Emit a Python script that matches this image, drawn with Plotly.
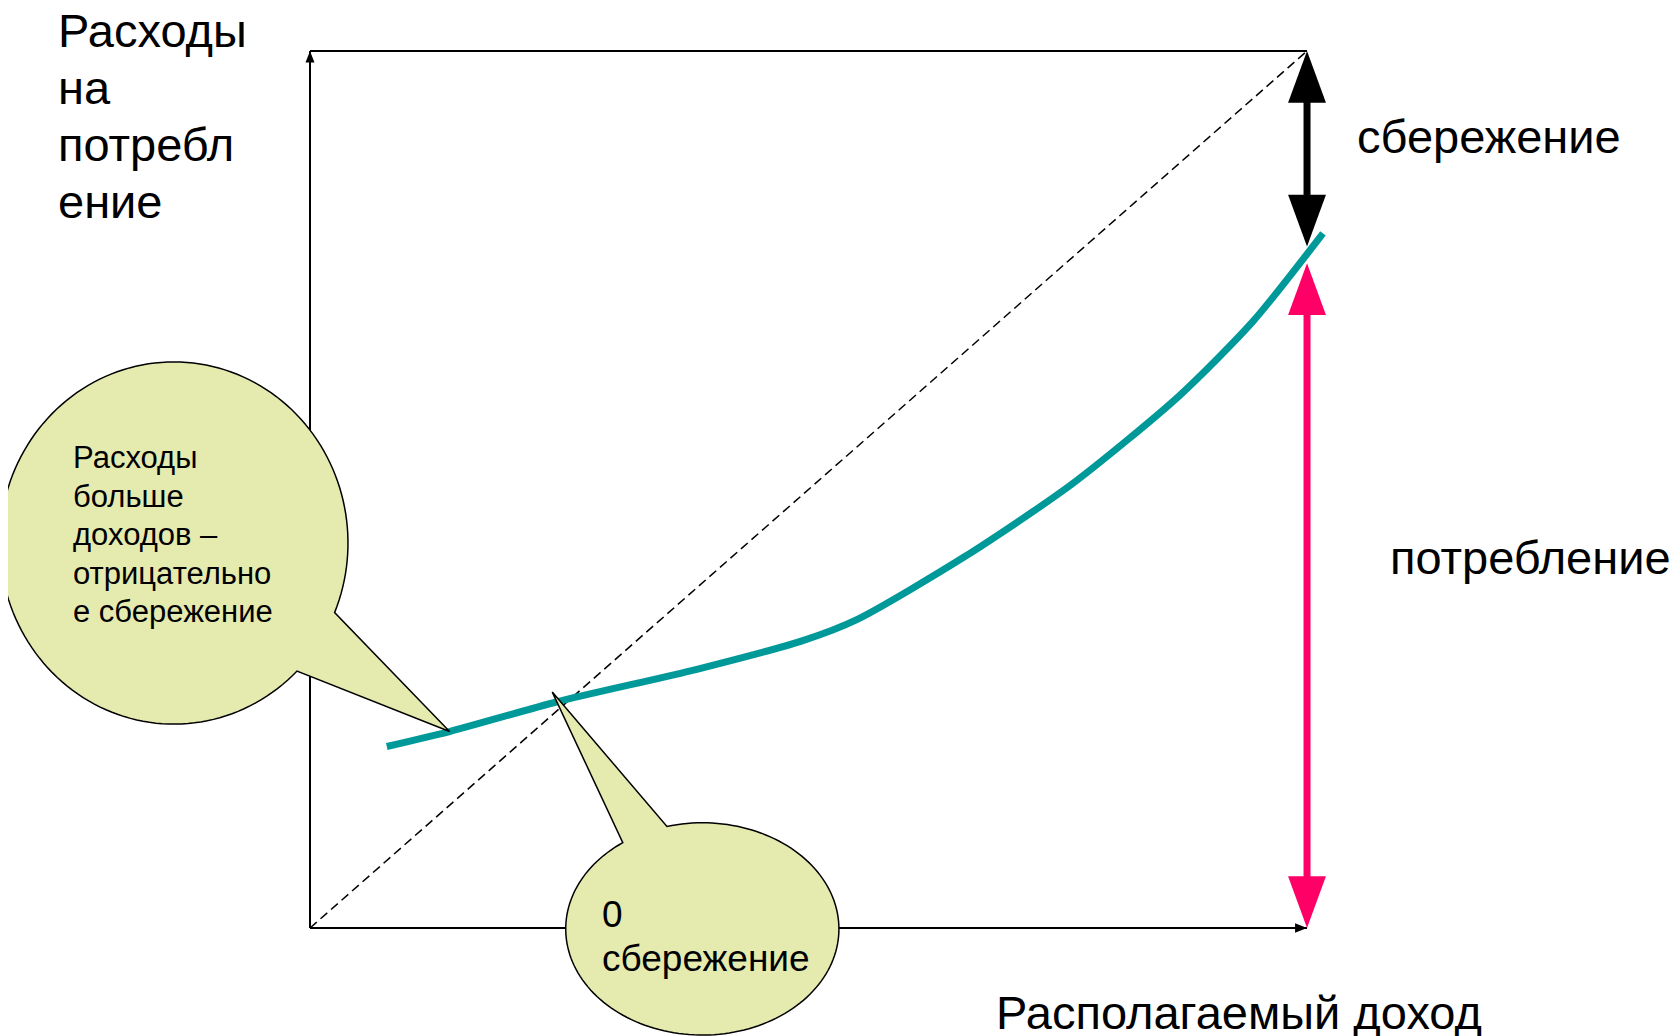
import numpy as np
import plotly.graph_objects as go

# consumption curve (income -> spending), axes 0..100
income = [7.7, 14.0, 24.8, 38.8, 49.5, 54.9, 65.6, 76.4, 87.1, 94.6, 101.6]
consumption = [20.7, 22.4, 25.8, 29.5, 32.8, 35.2, 42.3, 50.6, 60.6, 69.2, 79.2]

# arrows at income = 100
arrow_x = 100
saving_arrow = [100, 77.7]       # black: top of 45-degree line -> curve
consumption_arrow = [75.8, 0]    # pink: curve -> x axis

# labels
y_title = ["Расходы", "на", "потребл", "ение"]
x_title = "Располагаемый доход"
saving_label = "сбережение"
consumption_label = "потребление"
bubble1_text = ["Расходы", "больше", "доходов –", "отрицательно", "е сбережение"]
bubble2_text = ["0", "сбережение"]

TEAL = "#009999"
PINK = "#FF0066"
BUBBLE = "#E5EAAF"
FONT = "Liberation Sans, Arial, sans-serif"

# page body has an 8px margin, so the ranges start 8px in
X_RANGE = [-30.29, 137.41]
Y_RANGE = [-12.31, 104.9]


def tri_path(xt, yt, direction, length, half):
    # triangle head with tip at (xt, yt)
    if direction in ("up", "down"):
        s = -1 if direction == "up" else 1
        pts = [(xt, yt), (xt - half, yt + s * length), (xt + half, yt + s * length)]
    else:
        pts = [(xt, yt), (xt - length, yt - half), (xt - length, yt + half)]
    return "M " + " L ".join(f"{x},{y}" for x, y in pts) + " Z"


def bubble_path(cx, cy, rx, ry, a_start, a_end, tip):
    t = np.radians(np.linspace(a_start, a_end, 160))
    xs = cx + rx * np.cos(t)
    ys = cy + ry * np.sin(t)
    pts = list(zip(xs, ys)) + [tip]
    return "M " + " L ".join(f"{x:.3f},{y:.3f}" for x, y in pts) + " Z"


fig = go.Figure()

# 45 degree line
fig.add_trace(go.Scatter(x=[0, 100], y=[0, 100], mode="lines",
                         line=dict(color="black", width=1.5, dash="9px,5px"),
                         hoverinfo="skip"))

# consumption curve
fig.add_trace(go.Scatter(x=income, y=consumption, mode="lines",
                         line=dict(color=TEAL, width=7, shape="spline", smoothing=0.7),
                         hoverinfo="skip"))

shapes = []
# axes + top line
for x0, y0, x1, y1 in [(0, 0, 0, 100), (0, 0, 100, 0), (0, 100, 100, 100)]:
    shapes.append(dict(type="line", x0=x0, y0=y0, x1=x1, y1=y1, layer="below",
                       line=dict(color="black", width=2)))
shapes.append(dict(type="path", path=tri_path(0, 100, "up", 1.3, 0.45),
                   fillcolor="black", line=dict(width=0), layer="below"))
shapes.append(dict(type="path", path=tri_path(100, 0, "right", 1.2, 0.55),
                   fillcolor="black", line=dict(width=0), layer="below"))

# saving / consumption arrows
for (y_top, y_bot), col in [(saving_arrow, "black"), (consumption_arrow, PINK)]:
    shapes.append(dict(type="line", x0=arrow_x, x1=arrow_x, y0=y_top - 5, y1=y_bot + 5,
                       line=dict(color=col, width=7)))
    shapes.append(dict(type="path", path=tri_path(arrow_x, y_top, "up", 5.9, 1.9),
                       fillcolor=col, line=dict(width=0)))
    shapes.append(dict(type="path", path=tri_path(arrow_x, y_bot, "down", 5.9, 1.9),
                       fillcolor=col, line=dict(width=0)))

# speech bubbles
shapes.append(dict(type="path",
                   path=bubble_path(-13.65, 43.9, 17.46, 20.65, -22.6, 315, (14.0, 22.4)),
                   fillcolor=BUBBLE, line=dict(color="black", width=1.5)))
shapes.append(dict(type="path",
                   path=bubble_path(39.35, -0.1, 13.7, 12.1, 125.6, 465, (24.3, 26.9)),
                   fillcolor=BUBBLE, line=dict(color="black", width=1.5)))

annotations = []


def add_lines(lines, x, y0, step, size):
    for i, s in enumerate(lines):
        annotations.append(dict(x=x, y=y0 - i * step, text=s, showarrow=False,
                                xanchor="left", yanchor="middle",
                                font=dict(family=FONT, size=size, color="black")))


add_lines(y_title, -25.5, 102.3, 6.5, 47)
add_lines([saving_label], 104.85, 90.3, 0, 47)
add_lines([consumption_label], 108.1, 42.3, 0, 47)
add_lines([x_title], 68.6, -9.6, 0, 47)
add_lines(bubble1_text, -24.0, 53.65, 4.4, 31)
add_lines(bubble2_text, 29.1, 1.6, 5.1, 37)

fig.update_layout(
    width=1672, height=1028,
    margin=dict(l=0, r=0, t=0, b=0),
    paper_bgcolor="white", plot_bgcolor="white",
    showlegend=False,
    xaxis=dict(range=X_RANGE, visible=False, fixedrange=True),
    yaxis=dict(range=Y_RANGE, visible=False, fixedrange=True),
    shapes=shapes,
    annotations=annotations,
)

fig.write_html("out.html")
